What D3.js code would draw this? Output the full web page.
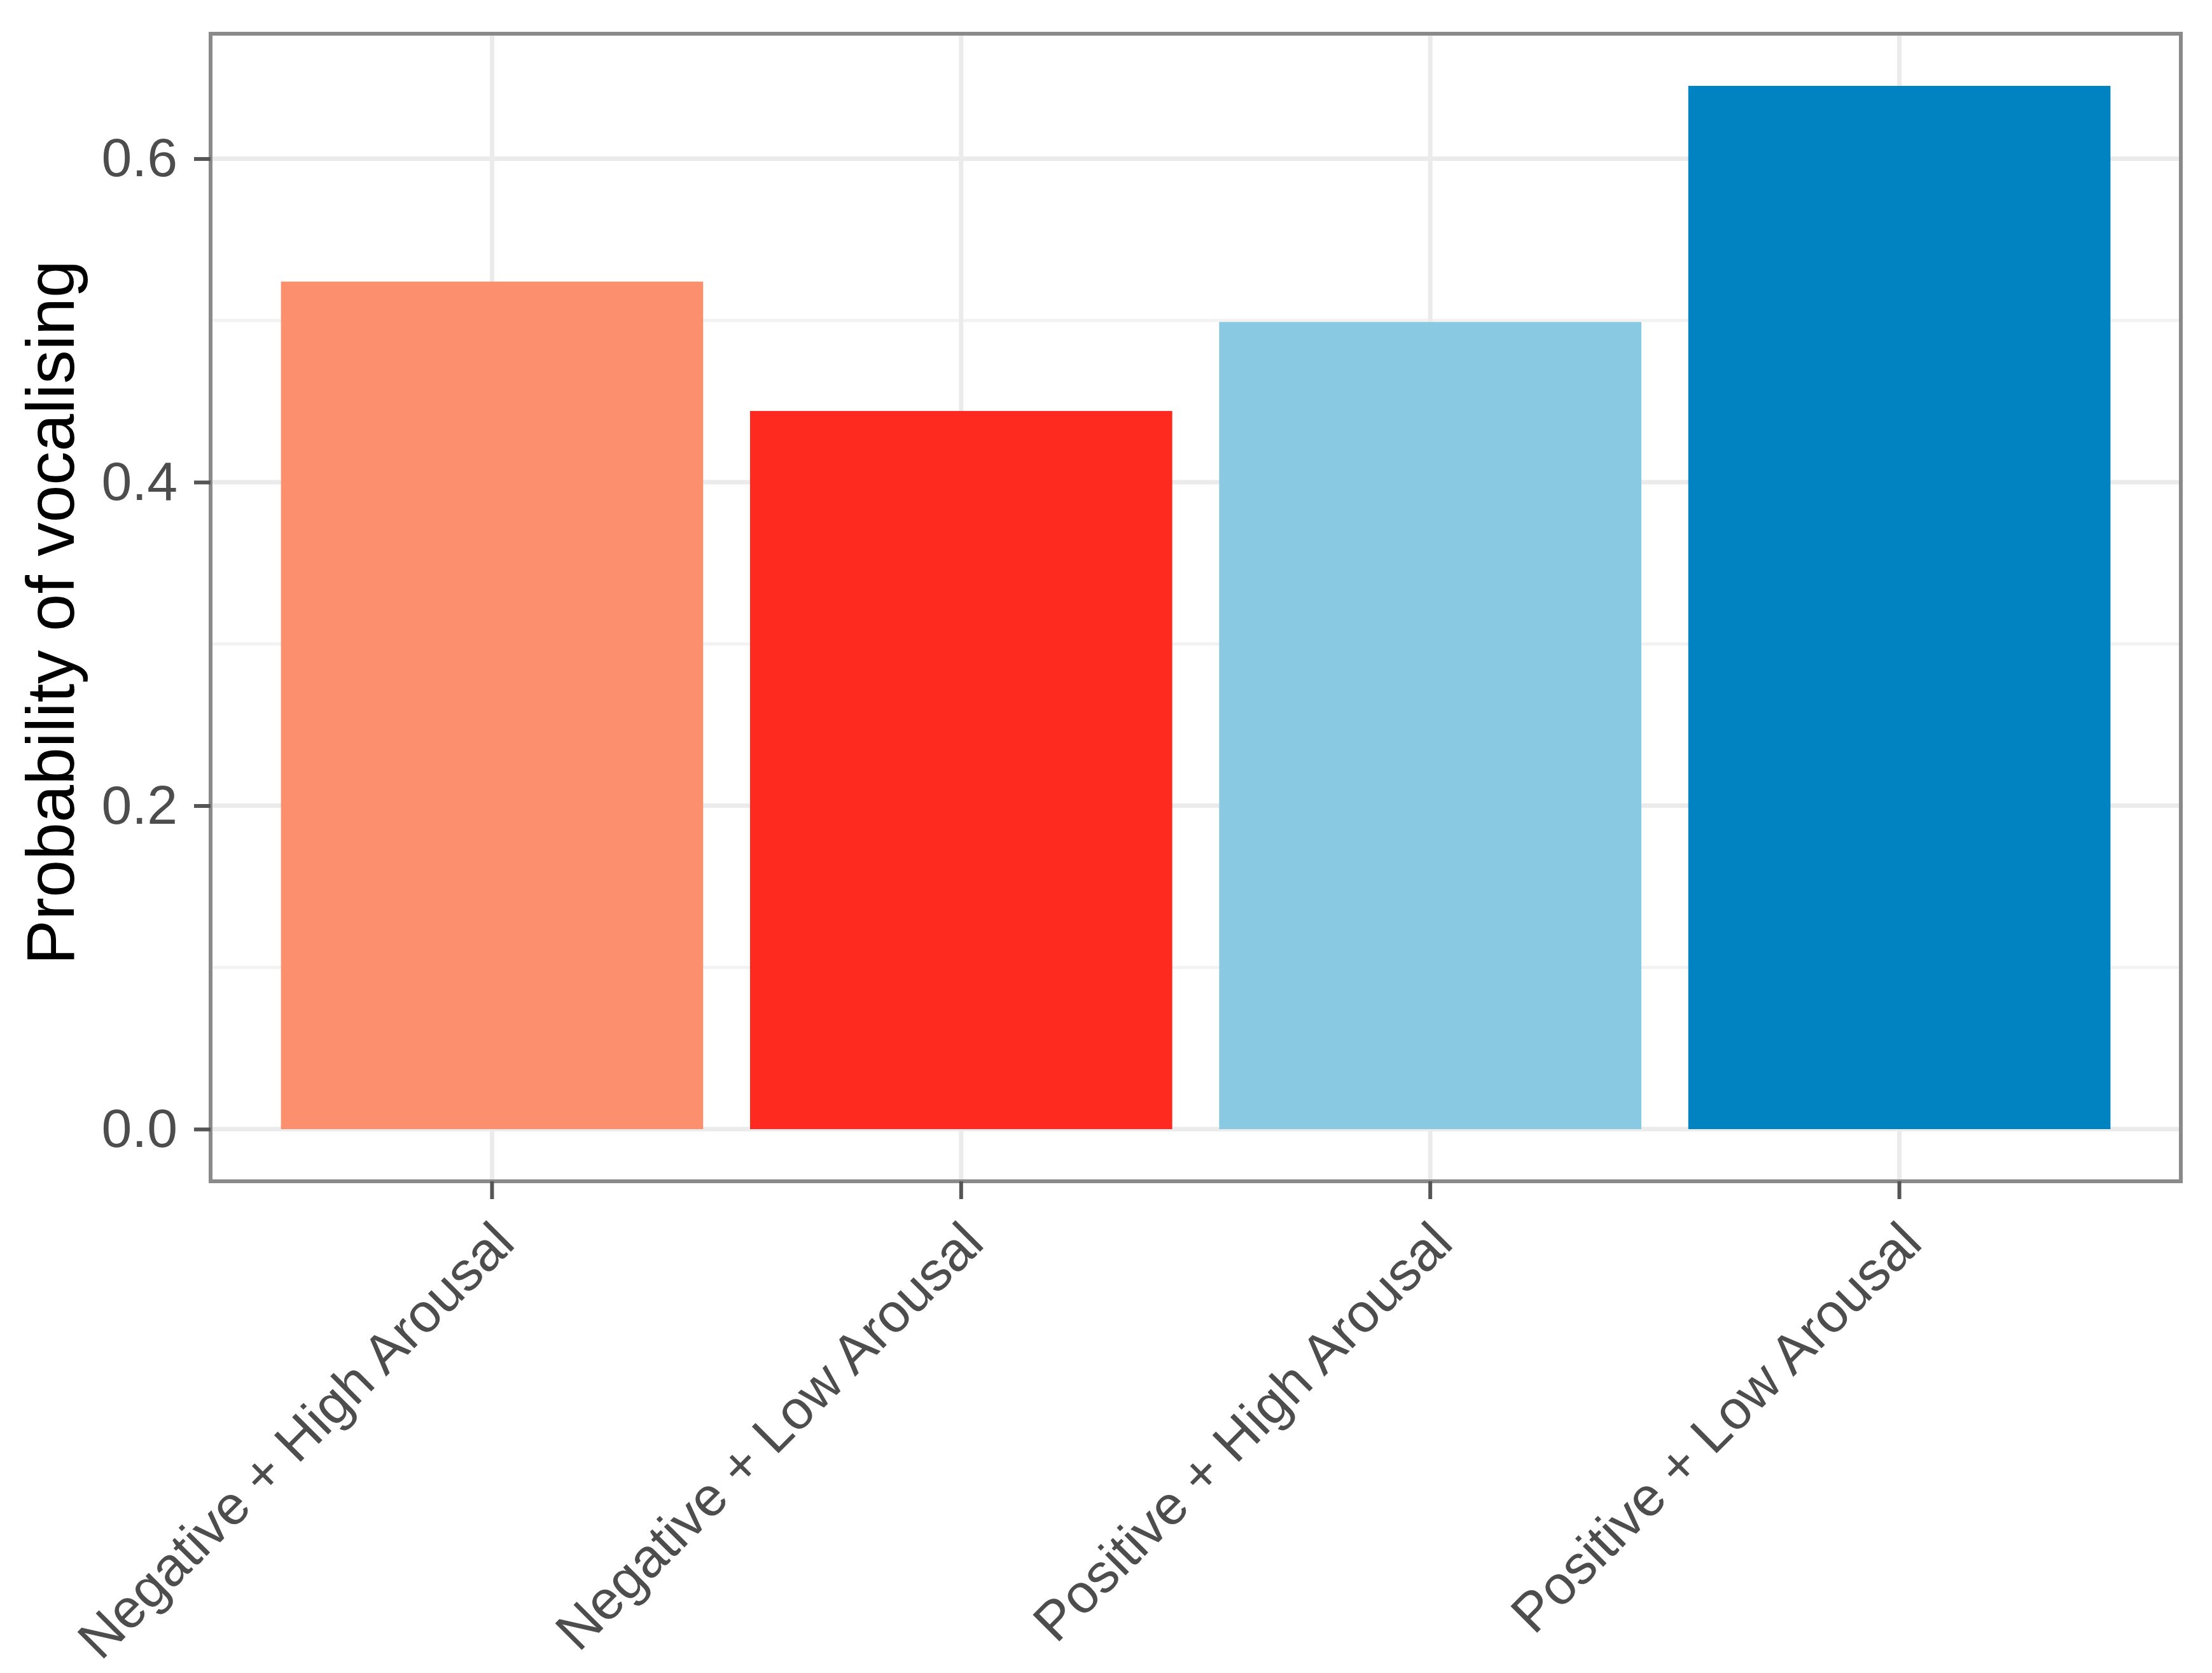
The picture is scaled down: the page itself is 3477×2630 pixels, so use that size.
<!DOCTYPE html>
<html lang="en">
<head>
    <meta charset="UTF-8">
    <title>Probability of vocalising</title>
    <script src="https://d3js.org/d3.v7.min.js"></script>
    <style>
        body {
            margin: 0;
            padding: 0;
            background-color: white;
            font-family: 'Liberation Sans', Arial, sans-serif;
        }
        .tick-label {
            font-size: 86px;
            fill: #4D4D4D;
        }
        .axis-title {
            font-size: 106px;
            fill: black;
        }
    </style>
</head>
<body>
    <script>
        // data
        var categories = ["Negative + High Arousal", "Negative + Low Arousal", "Positive + High Arousal", "Positive + Low Arousal"];
        var probabilities = [0.524, 0.444, 0.499, 0.645];
        var barColors = ["#FC8F6E", "#FE2A20", "#89C9E2", "#0283C1"];
        var majorTicks = [0, 0.2, 0.4, 0.6];
        var minorTicks = [0.1, 0.3, 0.5];

        var width = 3477, height = 2630;
        var panel = {left: 331, top: 53, right: 3428, bottom: 1857};

        var svg = d3.select("body").append("svg")
            .attr("width", width)
            .attr("height", height);

        var maxVal = d3.max(probabilities);
        var y = d3.scaleLinear()
            .domain([-0.05 * maxVal, maxVal * 1.05])
            .range([panel.bottom, panel.top]);

        var x = d3.scaleBand()
            .domain(categories)
            .range([panel.left, panel.right])
            .paddingInner(0.1)
            .paddingOuter(0.15);

        // grid lines
        var grid = svg.append("g");
        grid.selectAll(".minor")
            .data(minorTicks)
            .enter().append("line")
            .attr("x1", panel.left).attr("x2", panel.right)
            .attr("y1", function(d) { return y(d); })
            .attr("y2", function(d) { return y(d); })
            .attr("stroke", "#F2F2F2")
            .attr("stroke-width", 5);
        grid.selectAll(".major")
            .data(majorTicks)
            .enter().append("line")
            .attr("x1", panel.left).attr("x2", panel.right)
            .attr("y1", function(d) { return y(d); })
            .attr("y2", function(d) { return y(d); })
            .attr("stroke", "#EBEBEB")
            .attr("stroke-width", 7);
        grid.selectAll(".vert")
            .data(categories)
            .enter().append("line")
            .attr("x1", function(d) { return x(d) + x.bandwidth() / 2; })
            .attr("x2", function(d) { return x(d) + x.bandwidth() / 2; })
            .attr("y1", panel.top).attr("y2", panel.bottom)
            .attr("stroke", "#EBEBEB")
            .attr("stroke-width", 7);

        // bars
        svg.append("g")
            .selectAll("rect")
            .data(probabilities)
            .enter().append("rect")
            .attr("x", function(d, i) { return x(categories[i]); })
            .attr("width", x.bandwidth())
            .attr("y", function(d) { return y(d); })
            .attr("height", function(d) { return y(0) - y(d); })
            .attr("fill", function(d, i) { return barColors[i]; });

        // panel border
        svg.append("rect")
            .attr("x", panel.left)
            .attr("y", panel.top)
            .attr("width", panel.right - panel.left)
            .attr("height", panel.bottom - panel.top)
            .attr("fill", "none")
            .attr("stroke", "#8A8A8A")
            .attr("stroke-width", 6);

        // y axis
        var yAxis = svg.append("g")
            .attr("transform", "translate(" + panel.left + ",0)")
            .call(d3.axisLeft(y).tickValues(majorTicks).tickFormat(d3.format(".1f")).tickSize(26).tickPadding(26));
        yAxis.select(".domain").remove();
        yAxis.selectAll(".tick line").attr("stroke", "#555").attr("stroke-width", 6);
        yAxis.selectAll(".tick text")
            .attr("class", "tick-label")
            .attr("font-family", null)
            .attr("font-size", null)
            .attr("fill", null);

        // x axis
        var xAxis = svg.append("g")
            .attr("transform", "translate(0," + panel.bottom + ")")
            .call(d3.axisBottom(x).tickSize(28));
        xAxis.select(".domain").remove();
        xAxis.selectAll(".tick line").attr("stroke", "#555").attr("stroke-width", 6);
        xAxis.selectAll(".tick text")
            .attr("class", "tick-label")
            .attr("font-family", null)
            .attr("font-size", null)
            .attr("fill", null)
            .attr("y", null)
            .attr("dy", "0.71em")
            .attr("text-anchor", "end")
            .attr("transform", "translate(-4,58) rotate(-45)");

        // y axis title
        svg.append("text")
            .attr("class", "axis-title")
            .attr("text-anchor", "middle")
            .attr("transform", "translate(116," + ((panel.top + panel.bottom) / 2 + 8) + ") rotate(-90)")
            .text("Probability of vocalising");
    </script>
</body>
</html>
